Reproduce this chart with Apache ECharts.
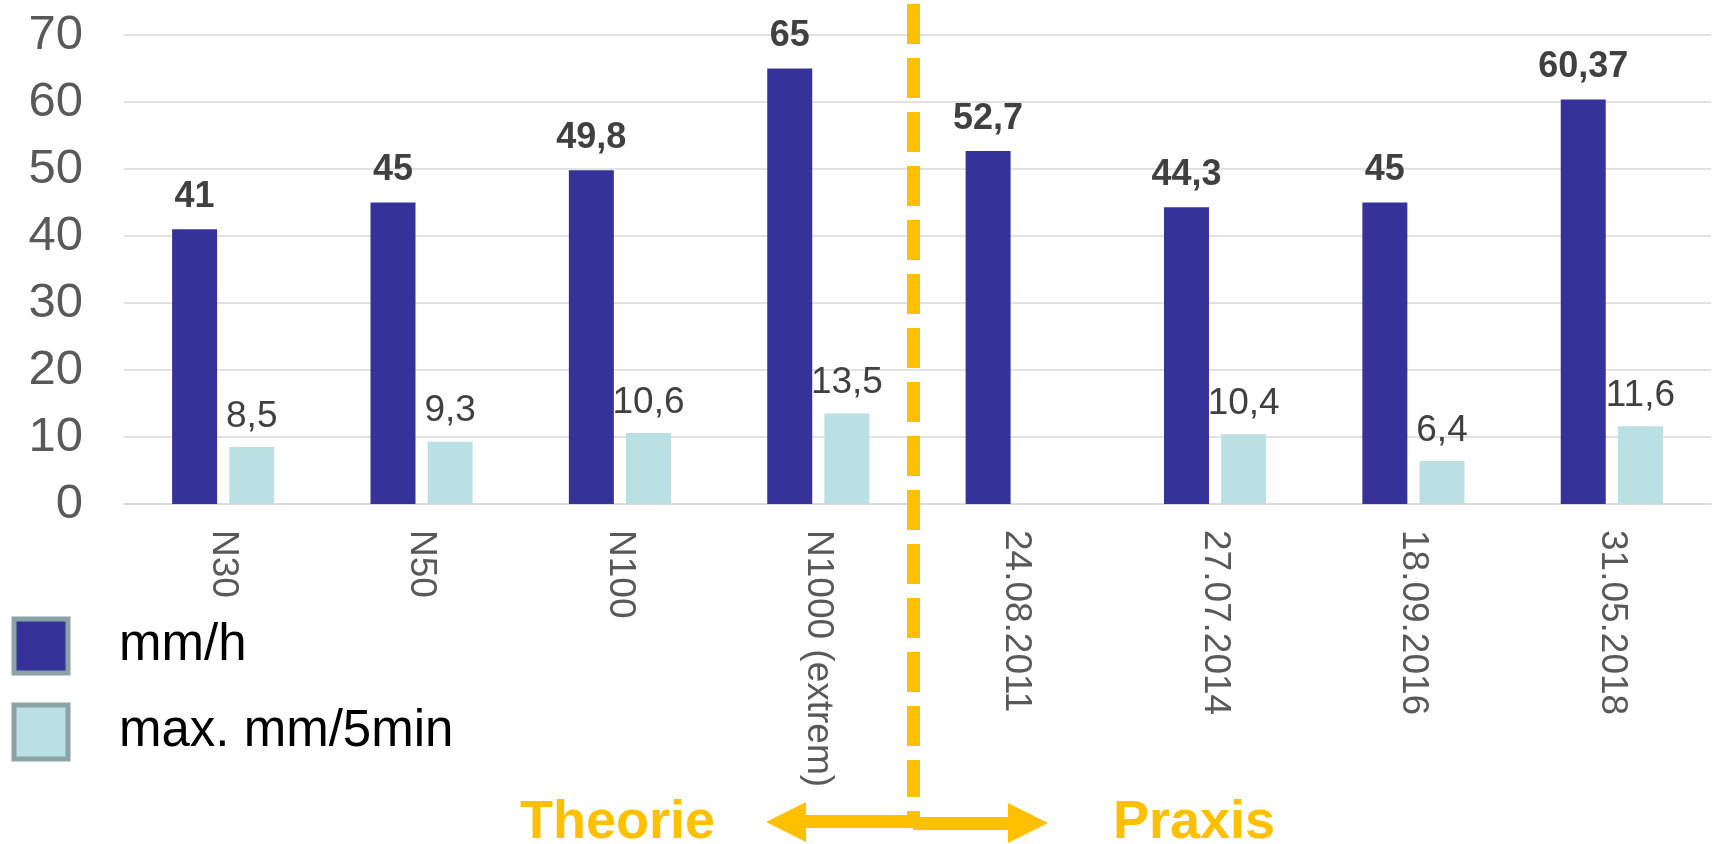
<!DOCTYPE html>
<html>
<head>
<meta charset="utf-8">
<script src="https://cdn.jsdelivr.net/npm/echarts@6/dist/echarts.min.js"></script>
<style>
html,body{margin:0;padding:0;background:#fff;}
#chart{width:1713px;height:844px;}
</style>
</head>
<body>
<div id="chart"></div>
<script>
var categories = ['N30', 'N50', 'N100', 'N1000 (extrem)', '24.08.2011', '27.07.2014', '18.09.2016', '31.05.2018'];
var seriesNames = ['mm/h', 'max. mm/5min'];
var mmPerHour = [41, 45, 49.8, 65, 52.7, 44.3, 45, 60.37];
var max5min = [8.5, 9.3, 10.6, 13.5, null, 10.4, 6.4, 11.6];
var yMin = 0, yMax = 70, yStep = 10;
var sectionLabels = ['Theorie', 'Praxis'];

var FONT = '"Liberation Sans", Arial, sans-serif';
var GOLD = '#FFC000';
function fmt(p) { return String(p.value).replace('.', ','); }

var chart = echarts.init(document.getElementById('chart'), null, {renderer: 'canvas'});
chart.setOption({
  animation: false,
  backgroundColor: '#ffffff',
  grid: {left: 124, right: 2, top: 35, bottom: 340, containLabel: false},
  legend: {
    orient: 'vertical',
    left: 11.5,
    top: 616.5,
    padding: 0,
    itemWidth: 54,
    itemHeight: 54,
    itemGap: 27,
    icon: 'rect',
    itemStyle: {borderColor: '#8BA3A5', borderWidth: 5},
    textStyle: {fontFamily: FONT, fontSize: 51, color: '#000000', padding: [0, 0, 0, 46]},
    data: seriesNames
  },
  xAxis: {
    type: 'category',
    data: categories,
    axisLine: {show: true, lineStyle: {color: '#D9D9D9', width: 1.5}},
    axisTick: {show: false},
    axisLabel: {rotate: -90, margin: 26, fontFamily: FONT, fontSize: 37, color: '#595959', interval: 0}
  },
  yAxis: {
    type: 'value',
    min: yMin, max: yMax, interval: yStep,
    axisLine: {show: false},
    axisTick: {show: false},
    splitLine: {lineStyle: {color: '#D9D9D9', width: 1.5}},
    axisLabel: {margin: 41, fontFamily: FONT, fontSize: 49, color: '#595959'}
  },
  series: [
    {
      name: seriesNames[0],
      type: 'bar',
      data: mmPerHour,
      barWidth: 45,
      barGap: '27%',
      itemStyle: {color: '#35339A'},
      label: {show: true, position: 'top', distance: 14, formatter: fmt,
        fontFamily: FONT, fontSize: 36, fontWeight: 'bold', color: '#404040'}
    },
    {
      name: seriesNames[1],
      type: 'bar',
      data: max5min,
      barWidth: 45,
      itemStyle: {color: '#BBE0E3'},
      label: {show: true, position: 'top', distance: 12, formatter: fmt,
        fontFamily: FONT, fontSize: 37, fontWeight: 'normal', color: '#404040'}
    }
  ],
  graphic: [
    {type: 'line', z: 100, shape: {x1: 913.5, y1: 4, x2: 913.5, y2: 797},
      style: {stroke: GOLD, lineWidth: 13, lineDash: [40, 14]}},
    {type: 'line', z: 100, shape: {x1: 913.5, y1: 811, x2: 913.5, y2: 817},
      style: {stroke: GOLD, lineWidth: 13}},
    {type: 'polygon', z: 100, shape: {points: [[766, 822], [806, 802], [806, 815], [913, 815], [913, 828], [806, 828], [806, 842]]},
      style: {fill: GOLD}},
    {type: 'polygon', z: 100, shape: {points: [[913, 817], [1008, 817], [1008, 803], [1048, 823], [1008, 843], [1008, 830], [913, 830]]},
      style: {fill: GOLD}},
    {type: 'text', z: 100, style: {text: sectionLabels[0], x: 520, y: 823, textVerticalAlign: 'middle', verticalAlign: 'middle',
      font: 'bold 54px ' + FONT, fill: GOLD}},
    {type: 'text', z: 100, style: {text: sectionLabels[1], x: 1113, y: 823, textVerticalAlign: 'middle', verticalAlign: 'middle',
      font: 'bold 54px ' + FONT, fill: GOLD}}
  ]
});
</script>
</body>
</html>
